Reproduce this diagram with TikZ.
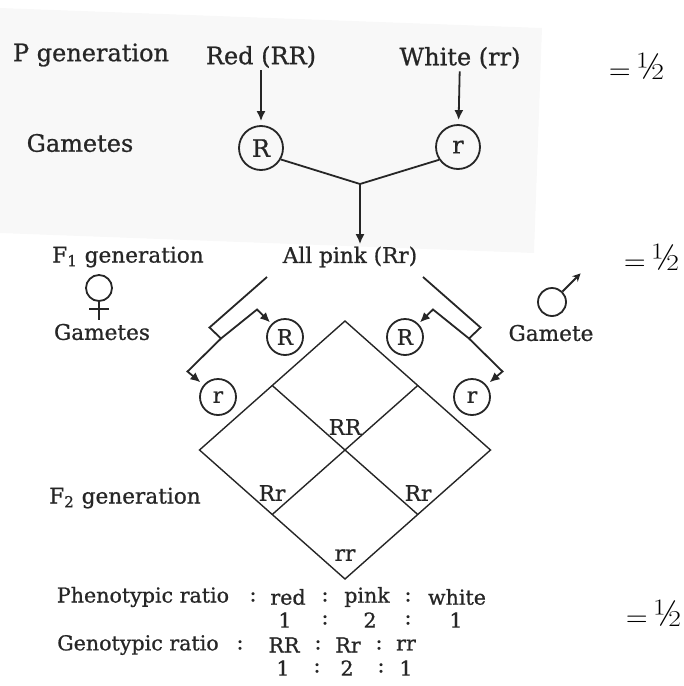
\documentclass[tikz,border=0pt]{standalone}
\usepackage{fontspec}
\usepackage{tikz}
\usetikzlibrary{arrows.meta,calc}
\newfontfamily\bookfont[FakeBold=0.8]{DejaVu Serif}
\newcommand{\eqhalf}{$=$\,{\fontsize{19}{20}\selectfont ½}}
\definecolor{scangray}{HTML}{F8F8F8}
\definecolor{inkgray}{HTML}{262626}

\begin{document}
\begin{tikzpicture}[x=0.5pt, y=-0.5pt,
  every node/.style={font=\bookfont\fontsize{10.8}{13}\selectfont, text=inkgray, inner sep=1pt},
  bigtxt/.style={font=\bookfont\fontsize{12}{14}\selectfont},
  lowtxt/.style={font=\bookfont\fontsize{10.3}{12}\selectfont},
  half/.style={font=\fontsize{15.5}{17}\selectfont, text=black},
  gam/.style={circle, draw=inkgray, line width=0.9pt, minimum size=18pt, inner sep=0pt},
  ln/.style={draw=inkgray, line width=0.9pt},
  arr/.style={ln, -{Latex[length=5pt,width=4.5pt]}},
  grid/.style={draw=inkgray, line width=0.7pt}]
\useasboundingbox (0,0) rectangle (684,686);
\fill[scangray] (0,8) -- (542,28) -- (534,253) -- (0,233) -- cycle;

% parents
\node[bigtxt] (pgen) at (91,55) {P generation};
\node[bigtxt] (red) at (261,57) {Red (RR)};
\node[bigtxt] (white) at (460,58) {White (rr)};
\node[half] (half1) at (637,66) {\eqhalf};
\node[bigtxt] (gam1) at (80,143) {Gametes};
\node[gam, bigtxt, minimum size=22pt] (Rtop) at (261,148) {R};
\node[gam, bigtxt, minimum size=22pt] (rtop) at (458,147) {r};
\draw[arr, shorten >=2pt] (red) -- (Rtop);
\draw[arr, shorten >=2pt] (white) -- (rtop);
\coordinate (join) at (360,184);
\draw[ln] (Rtop.-30) -- (join) -- (rtop.-146);

% F1
\node (f1gen) at (128,257) {F\textsubscript{1} generation};
\node (allpink) at (350,257) {All pink (Rr)};
\node[half] (half2) at (652,257) {\eqhalf};
\draw[arr] (join) -- (join |- allpink.north);

\node[circle, draw=inkgray, line width=0.9pt, minimum size=13pt, inner sep=0pt] (venus) at (99,288) {};
\draw[ln] (venus.south) -- ++(0,18) (venus.south) ++(-10,7) -- ++(20,0);
\node (gam2) at (102,332) {Gametes};
\node[circle, draw=inkgray, line width=0.9pt, minimum size=14pt, inner sep=0pt] (mars) at (552,302) {};
\draw[ln, -{Stealth[length=4pt,width=4pt]}] (mars.45) -- ++(18,-18);
\node (gam3) at (551,333) {Gamete};

\node[gam] (lR) at (285,337) {R};
\node[gam] (rR) at (405,337) {R};
\node[gam] (lr) at (218,397) {r};
\node[gam] (rr) at (472,397) {r};

% female side
\coordinate (la1) at (267,277);
\coordinate (la2) at (209.5,327.5);
\coordinate (lb) at (221,338.5);
\coordinate (lc) at (257,309.5);
\coordinate (ld) at (187.5,371.5);
\draw[ln] (la1) -- (la2) -- (lb);
\draw[arr, shorten >=1pt] (lb) -- (lc) -- (lR);
\draw[arr, shorten >=2pt] (lb) -- (ld) -- (lr);
% male side
\coordinate (ra1) at (423,277);
\coordinate (ra2) at (480.5,327.5);
\coordinate (rb) at (469,338.5);
\coordinate (rc) at (433,309.5);
\coordinate (rd) at (502.5,371.5);
\draw[ln] (ra1) -- (ra2) -- (rb);
\draw[arr, shorten >=1pt] (rb) -- (rc) -- (rR);
\draw[arr, shorten >=2pt] (rb) -- (rd) -- (rr);

% checkerboard
\coordinate (dt) at (345,321);
\coordinate (dl) at (199.5,450);
\coordinate (dr) at (490.5,450);
\coordinate (db) at (345,579);
\draw[grid] (dt) -- (dl) -- (db) -- (dr) -- cycle;
\draw[grid] ($(dt)!.5!(dl)$) -- ($(dr)!.5!(db)$);
\draw[grid] ($(dt)!.5!(dr)$) -- ($(dl)!.5!(db)$);
\node (cRR) at (345,427) {RR};
\node (cRr1) at (272,493) {Rr};
\node (cRr2) at (418,493) {Rr};
\node (crr) at (345,555) {rr};
\node (f2gen) at (125,498) {F\textsubscript{2} generation};

% ratios
\node[lowtxt] (pheno) at (143,597) {Phenotypic ratio};
\foreach \x/\t in {253/:, 288/red, 325/:, 367/pink, 408/:, 457/white}
  \node[lowtxt] (ph\x) at (\x,597) {\t};
\foreach \x/\t in {285/1, 325/:, 370/2, 408/:, 456/1}
  \node[lowtxt] (pn\x) at (\x,620) {\t};
\node[half] (half3) at (654,613) {\eqhalf};
\node[lowtxt] (geno) at (138,645) {Genotypic ratio};
\foreach \x/\t in {240/:, 284/RR, 318/:, 348/Rr, 379/:, 406/rr}
  \node[lowtxt] (ge\x) at (\x,645) {\t};
\foreach \x/\t in {283/1, 317/:, 347/2, 381/:, 406/1}
  \node[lowtxt] (gn\x) at (\x,668) {\t};
\end{tikzpicture}
\end{document}
